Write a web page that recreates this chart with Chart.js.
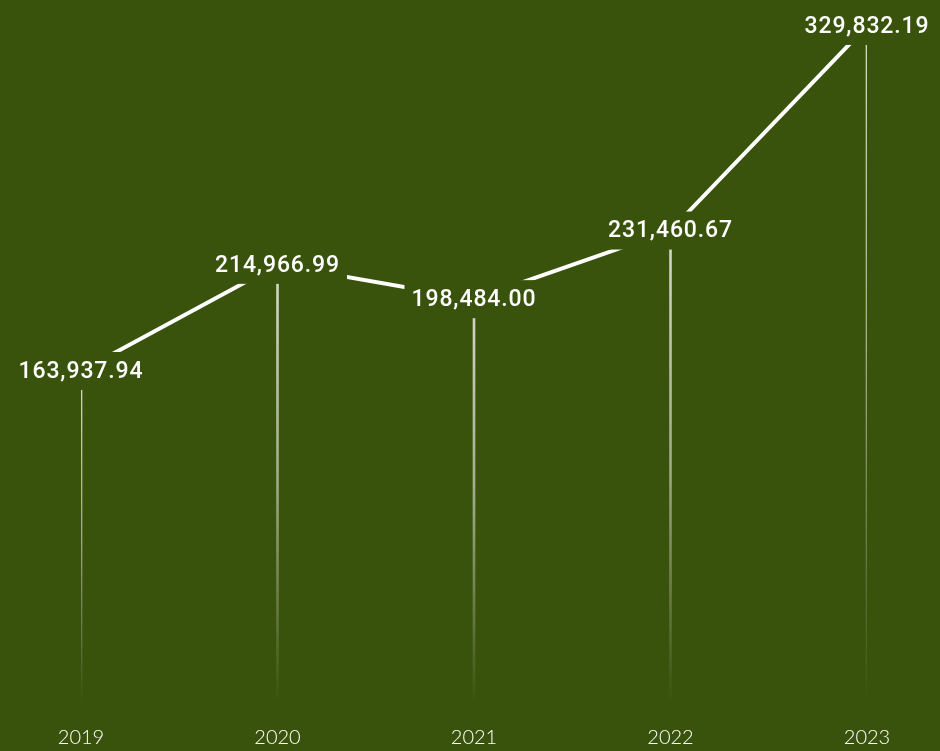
<!DOCTYPE html>
<html>
<head>
<meta charset="utf-8">
<script src="https://cdn.jsdelivr.net/npm/chart.js@4"></script>
<style>
  html, body { margin: 0; padding: 0; background: #3a530c; }
  #wrap { width: 940px; height: 751px; }
</style>
</head>
<body>
<div id="wrap"><canvas id="salesChart"></canvas></div>
<script>
// Yearly totals
const years = ['2019', '2020', '2021', '2022', '2023'];
const totals = [163937.94, 214966.99, 198484.00, 231460.67, 329832.19];

const BG = '#3a530c';

// Draw the value labels on a background box so the line is cut around them
const valueLabels = {
    id: 'valueLabels',
    afterDatasetsDraw(chart) {
        const { ctx } = chart;
        const meta = chart.getDatasetMeta(1);
        ctx.save();
        ctx.font = '500 23px Roboto';
        ctx.letterSpacing = '0.9px';
        ctx.textAlign = 'center';
        ctx.textBaseline = 'middle';
        meta.data.forEach((pt, i) => {
            const txt = totals[i].toLocaleString('en-US', { minimumFractionDigits: 2, maximumFractionDigits: 2 });
            const w = ctx.measureText(txt).width + 14;
            ctx.fillStyle = BG;
            ctx.fillRect(pt.x - w / 2, pt.y - 19, w, 38);
            ctx.fillStyle = '#ffffff';
            ctx.fillText(txt, pt.x, pt.y + 1);
        });
        ctx.restore();
    }
};

const ctx = document.getElementById('salesChart').getContext('2d');
new Chart(ctx, {
    data: {
        labels: years,
        datasets: [{
            type: 'bar',
            data: totals,
            barThickness: 2,
            order: 2,
            backgroundColor: (c) => {
                const chart = c.chart;
                const area = chart.chartArea;
                if (!area || c.parsed == null) return 'rgba(255,255,255,0.6)';
                const top = chart.scales.y.getPixelForValue(c.parsed.y);
                const g = chart.ctx.createLinearGradient(0, top, 0, area.bottom - 8);
                g.addColorStop(0, 'rgba(255,255,255,0.78)');
                g.addColorStop(0.5, 'rgba(255,255,255,0.5)');
                g.addColorStop(1, 'rgba(255,255,255,0)');
                return g;
            }
        }, {
            type: 'line',
            data: totals,
            borderColor: '#ffffff',
            borderWidth: 4,
            pointRadius: 0,
            tension: 0,
            order: 1
        }]
    },
    options: {
        responsive: true,
        maintainAspectRatio: false,
        animation: false,
        layout: { padding: { left: 81, right: 73, top: 0, bottom: 0 } },
        scales: {
            x: {
                offset: false,
                grid: { display: false },
                border: { display: false },
                ticks: { color: '#ffffff', font: { family: 'Lato', size: 20, weight: '300' }, padding: 6 },
                afterFit: (s) => { s.height = 39; }
            },
            y: {
                display: false,
                min: 0,
                max: 342300
            }
        },
        plugins: {
            legend: { display: false },
            tooltip: { enabled: false }
        }
    },
    plugins: [valueLabels]
});
</script>
</body>
</html>
